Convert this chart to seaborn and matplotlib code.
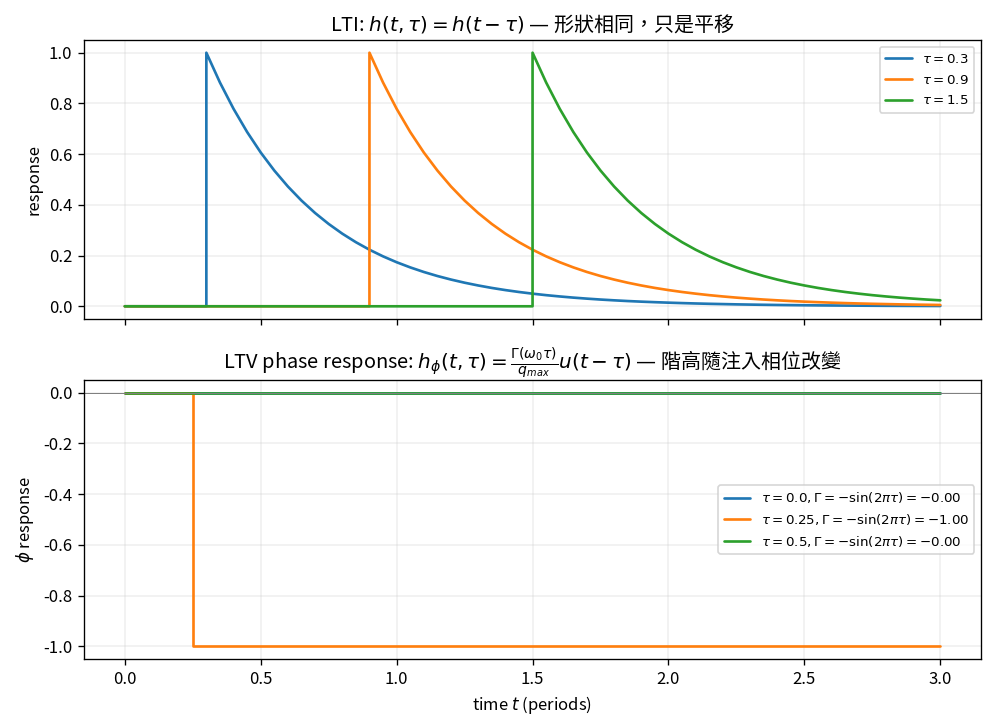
import numpy as np
import pandas as pd
import matplotlib
matplotlib.use("Agg")
import matplotlib.pyplot as plt
import seaborn as sns

# ---- data ----
lti_taus = [0.3, 0.9, 1.5]
# shared decay profile (offset from tau -> response)
decay_offsets = [0.00, 0.05, 0.10, 0.15, 0.20, 0.25, 0.30, 0.35, 0.40, 0.45,
                 0.50, 0.55, 0.60, 0.65, 0.70, 0.75, 0.80, 0.85, 0.90, 0.95,
                 1.00, 1.05, 1.10, 1.15, 1.20, 1.25, 1.30, 1.35, 1.40, 1.45,
                 1.50, 1.55, 1.60, 1.65, 1.70, 1.75, 1.80, 1.85, 1.90, 1.95,
                 2.00, 2.05, 2.10, 2.15, 2.20, 2.25, 2.30, 2.35, 2.40, 2.45,
                 2.50, 2.55, 2.60, 2.65, 2.70]
decay_values = [1.0000, 0.8825, 0.7788, 0.6873, 0.6065, 0.5353, 0.4724, 0.4169, 0.3679, 0.3247,
                0.2865, 0.2528, 0.2231, 0.1969, 0.1738, 0.1534, 0.1353, 0.1194, 0.1054, 0.0930,
                0.0821, 0.0724, 0.0639, 0.0564, 0.0498, 0.0439, 0.0388, 0.0342, 0.0302, 0.0266,
                0.0235, 0.0207, 0.0183, 0.0162, 0.0143, 0.0126, 0.0111, 0.0098, 0.0087, 0.0076,
                0.0067, 0.0059, 0.0052, 0.0046, 0.0041, 0.0036, 0.0032, 0.0028, 0.0025, 0.0022,
                0.0019, 0.0017, 0.0015, 0.0013, 0.0012]
t_start, t_end = 0.0, 3.0

ltv_taus = [0.0, 0.25, 0.5]
ltv_gammas = [-0.00, -1.00, -0.00]
ltv_labels = [r"$\tau=0.0,\Gamma=-\sin(2\pi\tau)=-0.00$",
              r"$\tau=0.25,\Gamma=-\sin(2\pi\tau)=-1.00$",
              r"$\tau=0.5,\Gamma=-\sin(2\pi\tau)=-0.00$"]
colors = ["#1f77b4", "#ff7f0e", "#2ca02c"]
x_ticks = [0.0, 0.5, 1.0, 1.5, 2.0, 2.5, 3.0]

# ---- style ----
sns.set_theme(style="ticks")
plt.rcParams["font.family"] = ["Noto Sans CJK TC", "DejaVu Sans"]
plt.rcParams["axes.unicode_minus"] = False
plt.rcParams["mathtext.fontset"] = "dejavusans"
plt.rcParams["xtick.labelsize"] = 10
plt.rcParams["ytick.labelsize"] = 10
plt.rcParams["axes.edgecolor"] = "black"
plt.rcParams["axes.linewidth"] = 0.8
plt.rcParams["xtick.color"] = "black"
plt.rcParams["ytick.color"] = "black"
plt.rcParams["xtick.major.width"] = 0.8
plt.rcParams["ytick.major.width"] = 0.8
plt.rcParams["xtick.major.size"] = 3.5
plt.rcParams["ytick.major.size"] = 3.5
plt.rcParams["text.color"] = "black"
plt.rcParams["axes.labelcolor"] = "black"

fig, (ax1, ax2) = plt.subplots(2, 1, figsize=(992 / 120, 728 / 120), dpi=120, sharex=True)
fig.subplots_adjust(left=0.0847, right=0.989, top=0.945, bottom=0.0948, hspace=0.219)

for tau, c in zip(lti_taus, colors):
    ts = [t_start, tau]
    ys = [0.0, 0.0]
    for o, v in zip(decay_offsets, decay_values):
        if tau + o <= t_end + 1e-9:
            ts.append(tau + o)
            ys.append(v)
    df = pd.DataFrame({"t": ts, "y": ys})
    sns.lineplot(data=df, x="t", y="y", ax=ax1, color=c, lw=1.6, sort=False,
                 estimator=None, label=rf"$\tau={tau}$")

ax1.set_title(r"LTI: $h(t,\tau)=h(t-\tau)$ — 形狀相同，只是平移", fontsize=12)
ax1.set_ylabel("response", fontsize=10)
ax1.set_xlabel("")
ax1.grid(True, alpha=0.3)
ax1.legend(loc="upper right", fontsize=8)
ax1.tick_params(labelbottom=False)

for tau, g, lab, c in zip(ltv_taus, ltv_gammas, ltv_labels, colors):
    df = pd.DataFrame({"t": [t_start, tau, tau, t_end], "y": [0.0, 0.0, g, g]})
    sns.lineplot(data=df, x="t", y="y", ax=ax2, color=c, lw=1.6, sort=False,
                 estimator=None, label=lab)
ax2.axhline(0, color="gray", lw=0.6)
ax2.set_title(r"LTV phase response: $h_\phi(t,\tau)=\frac{\Gamma(\omega_0\tau)}{q_{max}}u(t-\tau)$ — 階高隨注入相位改變",
              fontsize=12)
ax2.set_ylabel(r"$\phi$ response", fontsize=10)
ax2.set_xlabel(r"time $t$ (periods)", fontsize=10)
ax2.grid(True, alpha=0.3)
ax2.legend(loc="center right", fontsize=8)
ax2.set_xticks(x_ticks)

fig.savefig("out.png", dpi=120)
